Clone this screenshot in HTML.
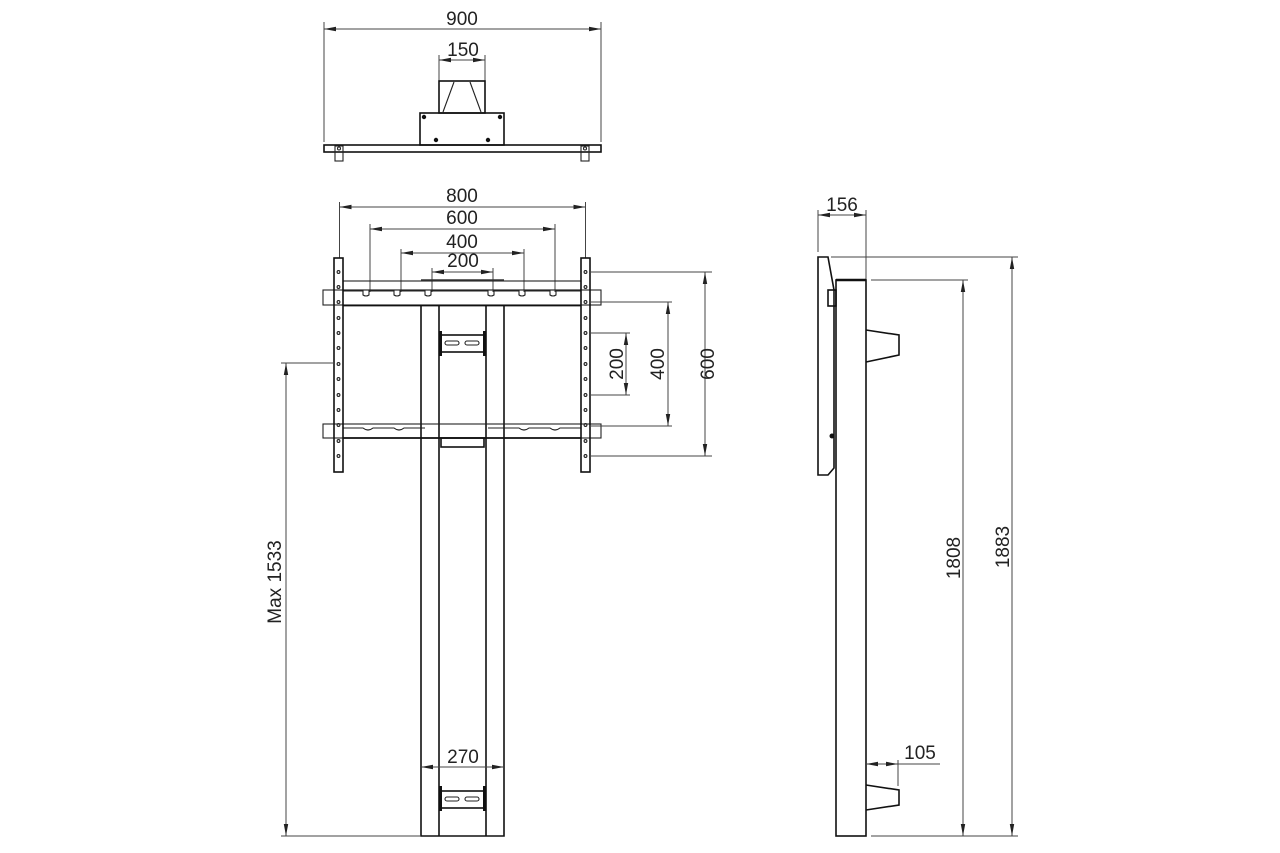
<!DOCTYPE html>
<html><head><style>
body{margin:0;background:#fff}
svg{display:block}
text{font-family:"Liberation Sans",Arial,sans-serif;font-size:19px;fill:#222}
.d{stroke:#444;stroke-width:1;fill:none}
.o{stroke:#111;stroke-width:1.6;fill:none}
.t{stroke:#222;stroke-width:1.1;fill:none}
</style></head><body>
<svg width="1280" height="853" viewBox="0 0 1280 853" xmlns="http://www.w3.org/2000/svg">
<defs>
<marker id="a" viewBox="0 0 12 6" refX="12" refY="3" markerWidth="12" markerHeight="6" orient="auto-start-reverse" markerUnits="userSpaceOnUse"><path d="M0,0.8 L12,3 L0,5.2 z" fill="#222"/></marker>
</defs>

<!-- TOP VIEW -->
<line class="d" x1="324" y1="22" x2="324" y2="142"/>
<line class="d" x1="601" y1="22" x2="601" y2="142"/>
<line class="d" x1="324" y1="29" x2="601" y2="29" marker-start="url(#a)" marker-end="url(#a)"/>
<text x="462" y="25" text-anchor="middle">900</text>
<line class="d" x1="439" y1="55" x2="439" y2="81"/>
<line class="d" x1="485" y1="55" x2="485" y2="81"/>
<line class="d" x1="439" y1="60" x2="485" y2="60" marker-start="url(#a)" marker-end="url(#a)"/>
<text x="463" y="56" text-anchor="middle">150</text>
<rect class="o" x="439" y="81" width="46" height="32"/>
<path class="t" d="M454,82 L443,112 M470,82 L481,112"/>
<rect class="o" x="420" y="113" width="84" height="32"/>
<circle cx="424" cy="117" r="2.2" fill="#111"/><circle cx="500" cy="117" r="2.2" fill="#111"/>
<circle cx="436" cy="140" r="2.2" fill="#111"/><circle cx="488" cy="140" r="2.2" fill="#111"/>
<rect class="o" x="324" y="145" width="277" height="7"/>
<rect class="t" x="335" y="146" width="8" height="15"/><rect class="t" x="581" y="146" width="8" height="15"/>
<circle class="t" cx="339" cy="148.5" r="1.5"/><circle class="t" cx="585" cy="148.5" r="1.5"/>

<!-- FRONT VIEW dims -->
<line class="d" x1="339.5" y1="202" x2="339.5" y2="258"/>
<line class="d" x1="585.5" y1="202" x2="585.5" y2="258"/>
<line class="d" x1="339.5" y1="207" x2="585.5" y2="207" marker-start="url(#a)" marker-end="url(#a)"/>
<text x="462" y="202" text-anchor="middle">800</text>
<line class="d" x1="370" y1="224" x2="370" y2="292"/>
<line class="d" x1="555" y1="224" x2="555" y2="292"/>
<line class="d" x1="370" y1="229" x2="555" y2="229" marker-start="url(#a)" marker-end="url(#a)"/>
<text x="462" y="224" text-anchor="middle">600</text>
<line class="d" x1="401" y1="249" x2="401" y2="292"/>
<line class="d" x1="524" y1="249" x2="524" y2="292"/>
<line class="d" x1="401" y1="253" x2="524" y2="253" marker-start="url(#a)" marker-end="url(#a)"/>
<text x="462" y="248" text-anchor="middle">400</text>
<line class="d" x1="432" y1="268" x2="432" y2="292"/>
<line class="d" x1="493" y1="268" x2="493" y2="292"/>
<line class="d" x1="432" y1="272" x2="493" y2="272" marker-start="url(#a)" marker-end="url(#a)"/>
<text x="463" y="267" text-anchor="middle">200</text>

<!-- column -->
<path class="o" d="M421,306 V836 H504 V306 M439,306 V836 M486,306 V836"/>
<g>
<rect class="o" x="441" y="335" width="43" height="17"/>
<rect class="t" x="445" y="341" width="14" height="4" rx="2"/><rect class="t" x="465" y="341" width="14" height="4" rx="2"/>
<rect x="439" y="331" width="3" height="25" fill="#111"/><rect x="483" y="331" width="3" height="25" fill="#111"/>
</g>
<g>
<rect class="o" x="441" y="791" width="43" height="17"/>
<rect class="t" x="445" y="797" width="14" height="4" rx="2"/><rect class="t" x="465" y="797" width="14" height="4" rx="2"/>
<rect x="439" y="786" width="3" height="25" fill="#111"/><rect x="483" y="786" width="3" height="25" fill="#111"/>
</g>
<rect class="o" x="441" y="438" width="43" height="9"/>

<!-- crossbars -->
<rect class="t" x="323" y="290" width="278" height="15"/>
<rect class="t" x="343" y="281" width="238" height="9"/>
<line x1="421" y1="280" x2="504" y2="280" stroke="#333" stroke-width="1.5"/>
<path class="t" d="M343,291 H363 V295 Q366,297 369,295 V291 H394 V295 Q397,297 400,295 V291 H425 V295 Q428,297 431,295 V291 H488 V295 Q491,297 494,295 V291 H519 V295 Q522,297 525,295 V291 H550 V295 Q553,297 556,295 V291 H581"/>
<line x1="343" y1="305.5" x2="581" y2="305.5" stroke="#111" stroke-width="1.8"/>
<rect class="t" x="323" y="424" width="278" height="14"/>
<path class="t" d="M343,428 H363 Q368,432 373,428 H394 Q399,432 404,428 H425 M488,428 H519 Q524,432 529,428 H550 Q555,432 560,428 H581"/>
<line x1="343" y1="438" x2="581" y2="438" stroke="#111" stroke-width="1.8"/>

<!-- uprights -->
<rect class="o" x="334" y="258" width="9" height="214" fill="#fff"/>
<rect class="o" x="581" y="258" width="9" height="214" fill="#fff"/>
<g class="t">
<circle cx="338.5" cy="272" r="1.4"/><circle cx="338.5" cy="287" r="1.4"/><circle cx="338.5" cy="302" r="1.4"/><circle cx="338.5" cy="318" r="1.4"/><circle cx="338.5" cy="333" r="1.4"/><circle cx="338.5" cy="348" r="1.4"/><circle cx="338.5" cy="364" r="1.4"/><circle cx="338.5" cy="379" r="1.4"/><circle cx="338.5" cy="395" r="1.4"/><circle cx="338.5" cy="410" r="1.4"/><circle cx="338.5" cy="425" r="1.4"/><circle cx="338.5" cy="441" r="1.4"/><circle cx="338.5" cy="456" r="1.4"/>
<circle cx="585.5" cy="272" r="1.4"/><circle cx="585.5" cy="287" r="1.4"/><circle cx="585.5" cy="302" r="1.4"/><circle cx="585.5" cy="318" r="1.4"/><circle cx="585.5" cy="333" r="1.4"/><circle cx="585.5" cy="348" r="1.4"/><circle cx="585.5" cy="364" r="1.4"/><circle cx="585.5" cy="379" r="1.4"/><circle cx="585.5" cy="395" r="1.4"/><circle cx="585.5" cy="410" r="1.4"/><circle cx="585.5" cy="425" r="1.4"/><circle cx="585.5" cy="441" r="1.4"/><circle cx="585.5" cy="456" r="1.4"/>
</g>

<!-- right vertical dims -->
<line class="d" x1="590" y1="272" x2="712" y2="272"/>
<line class="d" x1="590" y1="456" x2="712" y2="456"/>
<line class="d" x1="705" y1="272" x2="705" y2="456" marker-start="url(#a)" marker-end="url(#a)"/>
<text transform="translate(714,364) rotate(-90)" text-anchor="middle">600</text>
<line class="d" x1="590" y1="302" x2="672" y2="302"/>
<line class="d" x1="590" y1="426" x2="672" y2="426"/>
<line class="d" x1="668" y1="302" x2="668" y2="426" marker-start="url(#a)" marker-end="url(#a)"/>
<text transform="translate(664,364) rotate(-90)" text-anchor="middle">400</text>
<line class="d" x1="590" y1="333" x2="630" y2="333"/>
<line class="d" x1="590" y1="395" x2="630" y2="395"/>
<line class="d" x1="626" y1="333" x2="626" y2="395" marker-start="url(#a)" marker-end="url(#a)"/>
<text transform="translate(623,364) rotate(-90)" text-anchor="middle">200</text>

<!-- Max 1533 -->
<line class="d" x1="281" y1="363" x2="334" y2="363"/>
<line class="d" x1="281" y1="836" x2="421" y2="836"/>
<line class="d" x1="286" y1="363" x2="286" y2="836" marker-start="url(#a)" marker-end="url(#a)"/>
<text transform="translate(281,582) rotate(-90)" text-anchor="middle">Max 1533</text>

<!-- 270 -->
<line class="d" x1="421" y1="767" x2="504" y2="767" marker-start="url(#a)" marker-end="url(#a)"/>
<text x="463" y="763" text-anchor="middle">270</text>

<!-- SIDE VIEW -->
<line class="d" x1="818" y1="210" x2="818" y2="252"/>
<line class="d" x1="866" y1="210" x2="866" y2="280"/>
<line class="d" x1="818" y1="215" x2="866" y2="215" marker-start="url(#a)" marker-end="url(#a)"/>
<text x="842" y="211" text-anchor="middle">156</text>
<path class="o" d="M818,257 H828 L834,290 V468 L828,475 H818 Z" stroke-width="1.4"/>
<rect class="o" x="828" y="290" width="8" height="16" fill="#fff"/>
<circle cx="832" cy="436" r="2.5" fill="#111"/>
<rect class="o" x="836" y="280" width="30" height="556"/>
<line x1="836" y1="280" x2="866" y2="280" stroke="#111" stroke-width="2.5"/>
<path class="o" d="M866,330 L899,335 V355 L866,362"/>
<path class="o" d="M866,785 L899,790 V805 L866,810"/>
<line class="d" x1="831" y1="257" x2="1018" y2="257"/>
<line class="d" x1="871" y1="280" x2="968" y2="280"/>
<line class="d" x1="871" y1="836" x2="1018" y2="836"/>
<line class="d" x1="963" y1="280" x2="963" y2="836" marker-start="url(#a)" marker-end="url(#a)"/>
<text transform="translate(960,558) rotate(-90)" text-anchor="middle">1808</text>
<line class="d" x1="1012" y1="257" x2="1012" y2="836" marker-start="url(#a)" marker-end="url(#a)"/>
<text transform="translate(1009,547) rotate(-90)" text-anchor="middle">1883</text>
<line class="d" x1="898" y1="760" x2="898" y2="786"/>
<line class="d" x1="866" y1="764" x2="898" y2="764" marker-start="url(#a)" marker-end="url(#a)"/>
<line class="d" x1="898" y1="764" x2="940" y2="764"/>
<text x="920" y="759" text-anchor="middle">105</text>
</svg>
</body></html>
